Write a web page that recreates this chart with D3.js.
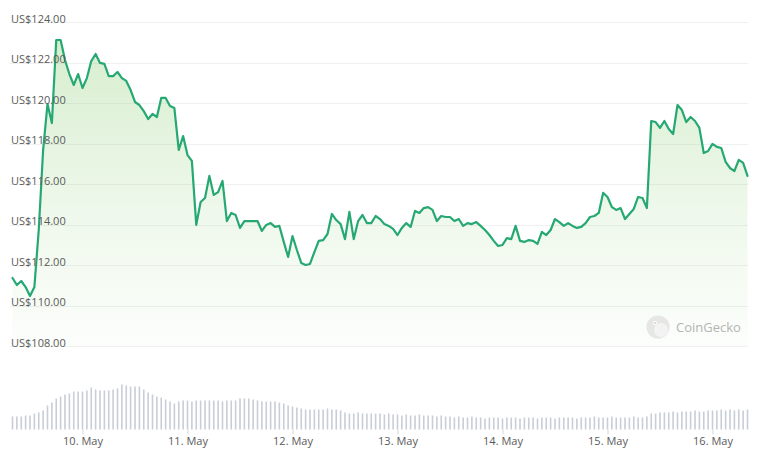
<!DOCTYPE html>
<html>
<head>
<meta charset="utf-8">
<script src="https://cdn.jsdelivr.net/npm/d3@7/dist/d3.min.js"></script>
<style>
html,body{margin:0;padding:0;background:#fff;}
svg{display:block;font-family:"Open Sans",sans-serif;}
</style>
</head>
<body>
<svg id="chart" width="760" height="464"></svg>
<script>
// hourly closing prices, 9 May 08:00 -> 16 May 08:00
const prices = [111.36,111.01,111.21,110.91,110.47,110.91,113.73,117.68,119.95,119.01,
123.11,123.11,122.12,121.43,120.89,121.43,120.74,121.23,122.07,122.42,
121.98,121.93,121.33,121.33,121.53,121.23,121.09,120.64,120.05,119.90,
119.60,119.21,119.46,119.31,120.25,120.25,119.85,119.75,117.68,118.37,
117.43,117.14,113.98,115.11,115.31,116.40,115.46,115.60,116.15,114.17,
114.57,114.47,113.83,114.17,114.17,114.17,114.17,113.68,113.98,114.07,
113.88,113.93,113.14,112.40,113.43,112.74,112.10,112.00,112.05,112.64,
113.19,113.23,113.53,114.52,114.22,114.02,113.28,114.62,113.28,114.17,
114.47,114.07,114.07,114.42,114.27,114.02,113.93,113.78,113.48,113.83,
114.07,113.88,114.67,114.57,114.81,114.86,114.72,114.17,114.42,114.37,
114.37,114.17,114.27,113.93,114.07,114.02,114.12,113.93,113.73,113.48,
113.19,112.94,112.99,113.33,113.28,113.93,113.19,113.14,113.23,113.19,
113.04,113.63,113.48,113.73,114.27,114.12,113.93,114.07,113.93,113.83,
113.88,114.07,114.37,114.42,114.57,115.56,115.36,114.86,114.72,114.81,
114.27,114.52,114.77,115.36,115.31,114.81,119.11,119.06,118.77,119.11,
118.72,118.47,119.90,119.65,119.06,119.31,119.11,118.77,117.53,117.63,
117.98,117.83,117.78,117.09,116.79,116.64,117.19,117.04,116.40];

// hourly traded volume (relative units)
const volumes = [13,13,13,14,14,16,17,19,24,27,
31,33,35,36,38,38,38,39,42,40,
39,39,39,40,41,45,44,43,43,43,
40,37,35,33,32,30,28,26,28,29,
29,28,29,29,29,29,29,29,28,29,
29,29,31,31,31,30,29,28,28,28,
28,27,26,24,23,22,21,20,20,20,
20,20,21,20,20,19,17,16,16,17,
16,16,16,16,16,15,16,15,15,14,
15,14,14,15,14,14,14,13,14,13,
13,12,13,12,12,13,12,12,11,12,
12,12,11,12,12,12,11,12,12,12,
11,12,12,12,11,12,12,12,12,11,
12,12,12,13,12,12,12,13,12,12,
12,12,13,12,12,13,16,16,17,17,
17,18,17,18,18,18,19,18,18,19,
19,19,20,19,20,19,20,19,20];

const yTicks = [108,110,112,114,116,118,120,122,124];
const startTime = new Date(2024, 4, 9, 8, 0, 0);
const endTime = new Date(2024, 4, 16, 8, 0, 0);
const dayTicks = [10,11,12,13,14,15,16].map(d => new Date(2024, 4, d));

const times = prices.map((_, i) => new Date(startTime.getTime() + i * 3600000));
const data = prices.map((p, i) => ({t: times[i], p, v: volumes[i]}));

const svg = d3.select("#chart");
const x = d3.scaleTime().domain([startTime, endTime]).range([12.5, 747.5]);
const y = d3.scaleLinear().domain([108, 124]).range([346, 22]);
const yv = d3.scaleLinear().domain([0, 50]).range([429.5, 379.5]);

// gradient
const defs = svg.append("defs");
const grad = defs.append("linearGradient").attr("id","areaGrad")
  .attr("gradientUnits","userSpaceOnUse").attr("x1",0).attr("x2",0)
  .attr("y1", y(124)).attr("y2", y(108));
grad.append("stop").attr("offset","0%").attr("stop-color","#8fcf78").attr("stop-opacity",0.38);
grad.append("stop").attr("offset","60%").attr("stop-color","#8fcf78").attr("stop-opacity",0.14);
grad.append("stop").attr("offset","100%").attr("stop-color","#8fcf78").attr("stop-opacity",0.03);

// gridlines
svg.append("g").selectAll("line").data(yTicks).join("line")
  .attr("x1", 10).attr("x2", 748)
  .attr("y1", d => Math.round(y(d)) + 0.5).attr("y2", d => Math.round(y(d)) + 0.5)
  .attr("stroke", "#f0f0f0").attr("stroke-width", 1);

// area + line
const area = d3.area().x(d => x(d.t)).y0(y(108)).y1(d => y(d.p));
svg.append("path").datum(data).attr("d", area).attr("fill", "url(#areaGrad)");

const line = d3.line().x(d => x(d.t)).y(d => y(d.p));
svg.append("path").datum(data).attr("d", line)
  .attr("fill","none").attr("stroke","#26a873").attr("stroke-width",2.2)
  .attr("stroke-linejoin","round").attr("stroke-linecap","round");

// y labels
svg.append("g").selectAll("text").data(yTicks).join("text")
  .attr("x", 11).attr("y", d => y(d) + 0.5)
  .attr("font-size", 11).attr("fill", "#5a5a5a")
  .text(d => "US$" + d3.format(".2f")(d));

// volume bars
svg.append("g").selectAll("rect").data(data).join("rect")
  .attr("x", d => x(d.t) - 0.8).attr("width", 1.6)
  .attr("y", d => yv(d.v)).attr("height", d => yv(0) - yv(d.v))
  .attr("fill", "#c8cdd8");

// x axis
const xAxis = d3.axisBottom(x).tickValues(dayTicks)
  .tickFormat(d3.timeFormat("%-d. %b")).tickSize(5).tickPadding(3);
const gx = svg.append("g").attr("transform", "translate(0,429.5)").call(xAxis);
gx.select(".domain").remove();
gx.selectAll(".tick line").attr("stroke", "#d6d6d6");
gx.selectAll(".tick text").attr("font-size", 11).attr("fill", "#5a5a5a")
  .attr("font-family", "Open Sans, sans-serif");

// watermark
const wm = svg.append("g").attr("opacity", 0.9);
wm.append("circle").attr("cx", 658).attr("cy", 327).attr("r", 11.5).attr("fill", "#e4e4e4");
wm.append("circle").attr("cx", 661).attr("cy", 330).attr("r", 7).attr("fill", "#f2f2f2");
wm.append("circle").attr("cx", 655).attr("cy", 323).attr("r", 2.2).attr("fill", "#fafafa");
wm.append("circle").attr("cx", 655).attr("cy", 323).attr("r", 1).attr("fill", "#cfcfcf");
wm.append("text").attr("x", 676).attr("y", 332).attr("font-size", 13)
  .attr("fill", "#aeaeae").text("CoinGecko");
</script>
</body>
</html>
